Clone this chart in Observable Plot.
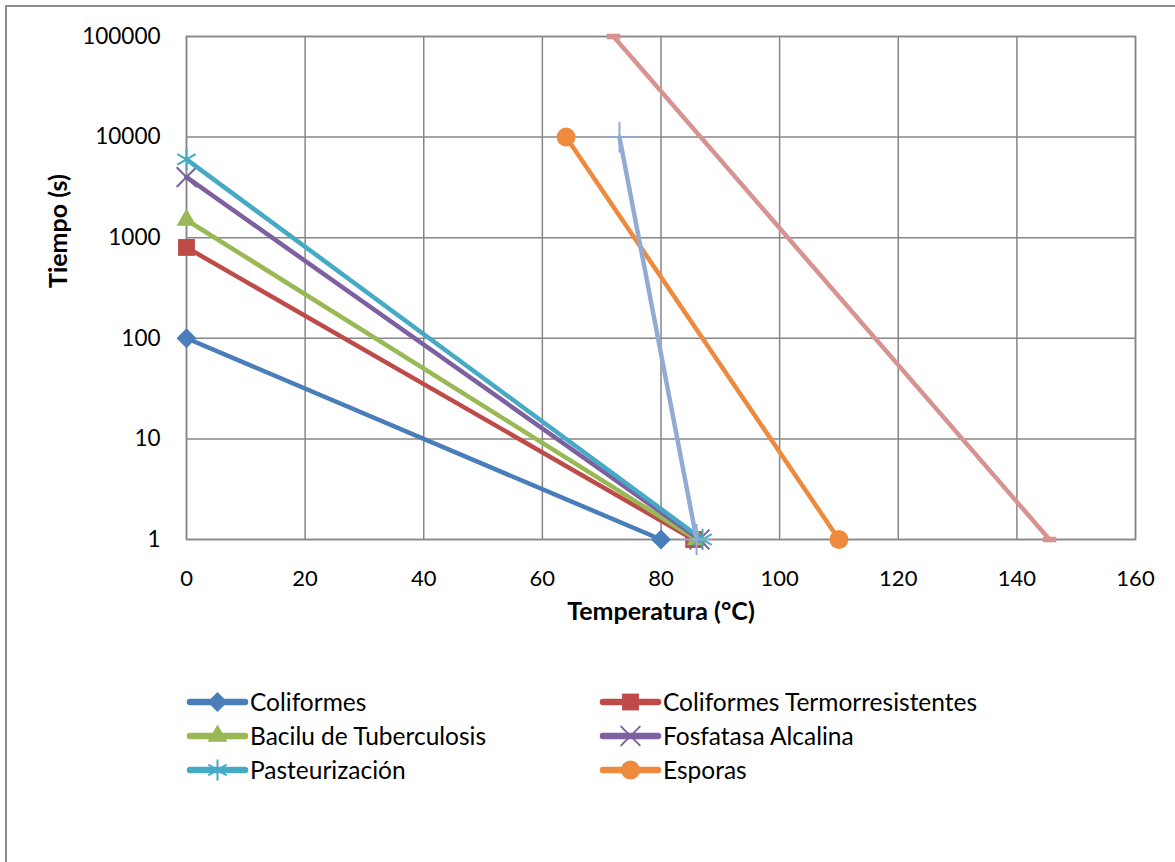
<!DOCTYPE html>
<html><head><meta charset="utf-8">
<script src="https://cdn.jsdelivr.net/npm/d3@7"></script>
<script src="https://cdn.jsdelivr.net/npm/@observablehq/plot@0.6"></script>
<style>
body{margin:0;background:#fff;font-family:Lato, "Open Sans", sans-serif}
#wrap{position:relative;width:1175px;height:862px;overflow:hidden;background:#fff}
#border{position:absolute;left:5px;top:5px;width:1400px;height:1000px;border-left:2px solid #8c8c8c;border-top:2px solid #8c8c8c}
#chart{position:absolute;left:0;top:0}
#legend{position:absolute;left:0;top:0}
</style></head><body>
<div id="wrap"><div id="border"></div><div id="chart"></div><svg id="legend" width="1175" height="862"></svg></div>
<script>
// ---- data ----
const series = ["Coliformes","Coliformes Termorresistentes","Bacilu de Tuberculosis","Fosfatasa Alcalina","Pasteurización","Esporas","Serie 7","Serie 8"];
const temperatura = [[0,80],[0,85.5],[0,86],[0,86.5],[0,87],[64,110],[73,86],[72,145.5]];
const tiempo = [[100,1],[800,1],[1500,1],[4000,1],[6000,1],[10000,1],[10000,1],[100000,1]];
const legendSeries = ["Coliformes","Coliformes Termorresistentes","Bacilu de Tuberculosis","Fosfatasa Alcalina","Pasteurización","Esporas"];
const xTicks = [0,20,40,60,80,100,120,140,160];
const yTicks = [1,10,100,1000,10000,100000];

// ---- styles ----
const colors = ["#4A7EBB","#BE4B48","#98B954","#7D60A0","#46AAC5","#EE8A3E","#93ABD3","#D69391"];
const dashSymbol = {draw(ctx, size){ const w = Math.sqrt(size)*1.1, h = Math.sqrt(size)*0.45; ctx.rect(-w/2,-h/2,w,h); }};
const symbols = ["diamond2","square","triangle2","times","asterisk","circle","plus",dashSymbol];
const filled = [true,true,true,false,false,true,false,true];
const sizes = [9,9.5,9.5,9,10,9.5,10,7];
const FONT = "Lato, 'Open Sans', sans-serif";

const rows = [];
series.forEach((s,i)=>{
  temperatura[i].forEach((t,j)=>rows.push({serie:s, i, t, time:tiempo[i][j]}));
});

const marks = [
  Plot.gridX(xTicks,{stroke:"#868686",strokeOpacity:1,strokeWidth:1.5}),
  Plot.gridY(yTicks,{stroke:"#868686",strokeOpacity:1,strokeWidth:1.5}),
  Plot.frame({stroke:"#868686",strokeWidth:1.5}),
  Plot.axisX(xTicks,{tickSize:0,tickPadding:31,fontSize:22,label:null}),
  Plot.axisY(yTicks,{tickSize:0,tickPadding:26,fontSize:22.5,tickFormat:d=>String(d),label:null}),
  Plot.text(["Temperatura (°C)"],{frameAnchor:"bottom",dy:80,fontWeight:"bold",fontSize:25}),
  Plot.text(["Tiempo (s)"],{frameAnchor:"left",dx:-128,rotate:-90,fontWeight:"bold",fontSize:25})
];
series.forEach((s,i)=>{
  const d = rows.filter(r=>r.i===i);
  marks.push(Plot.line(d,{x:"t",y:"time",stroke:colors[i],strokeWidth:4.5}));
  marks.push(Plot.dot(d,{x:"t",y:"time",symbol:symbols[i],r:sizes[i],
    fill: filled[i]?colors[i]:"none", stroke:colors[i], strokeWidth: filled[i]?0:2}));
});

const chart = Plot.plot({
  width:1175, height:640,
  marginLeft:186, marginRight:40, marginTop:36, marginBottom:101,
  x:{domain:[0,160],label:null},
  y:{type:"log",domain:[1,100000],label:null},
  style:{fontFamily:FONT,fontSize:"22px",color:"#000",background:"transparent",overflow:"visible"},
  marks
});
document.getElementById("chart").appendChild(chart);

// ---- legend ----
const lg = d3.select("#legend");
const pos = [[190,702],[603,702],[190,736],[603,736],[190,770],[603,770]];
const map = {diamond2:d3.symbolDiamond2,square:d3.symbolSquare,triangle2:d3.symbolTriangle2,times:d3.symbolTimes,asterisk:d3.symbolAsterisk,circle:d3.symbolCircle,plus:d3.symbolPlus};
legendSeries.forEach((name,k)=>{
  const i = series.indexOf(name);
  const [x,y] = pos[k];
  lg.append("line").attr("x1",x).attr("x2",x+55).attr("y1",y).attr("y2",y)
    .attr("stroke",colors[i]).attr("stroke-width",6.5).attr("stroke-linecap","round");
  const type = typeof symbols[i]==="string" ? map[symbols[i]] : symbols[i];
  const r = sizes[i];
  lg.append("path").attr("transform",`translate(${x+27.5},${y})`)
    .attr("d",d3.symbol(type, r*r*Math.PI)())
    .attr("fill",filled[i]?colors[i]:"none").attr("stroke",colors[i]).attr("stroke-width",filled[i]?0:2);
  lg.append("text").attr("x",x+60).attr("y",y).attr("dy","0.36em")
    .attr("font-size",24.5).attr("font-family",FONT).attr("fill","#000").text(name);
});
</script>
</body></html>
